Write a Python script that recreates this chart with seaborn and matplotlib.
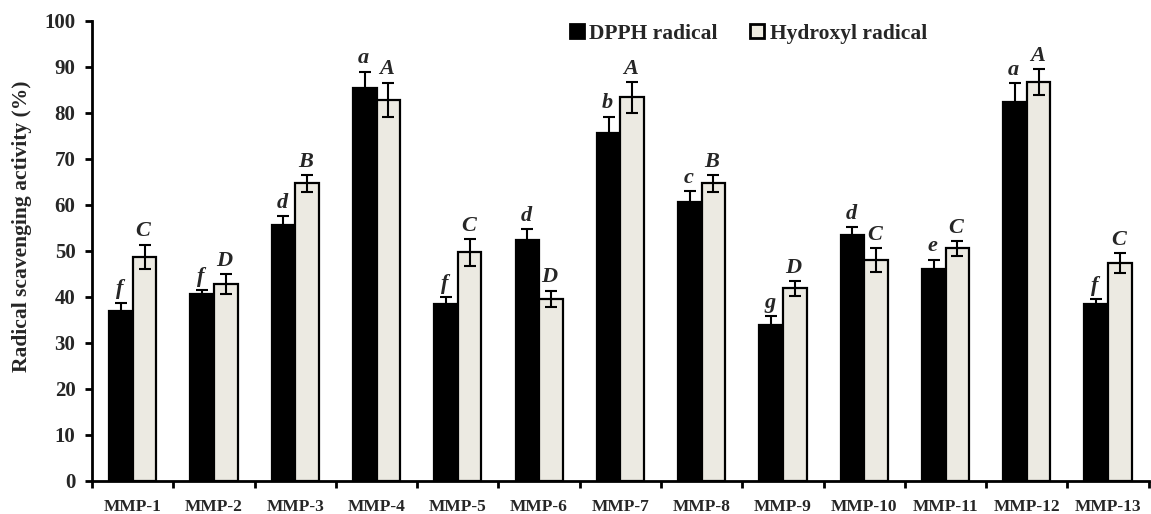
import matplotlib
matplotlib.use("Agg")
import matplotlib.pyplot as plt
import seaborn as sns
import pandas as pd
import numpy as np
from matplotlib.ticker import FixedLocator
from matplotlib.lines import Line2D
from matplotlib.container import BarContainer

categories = ["MMP-1", "MMP-2", "MMP-3", "MMP-4", "MMP-5", "MMP-6", "MMP-7",
              "MMP-8", "MMP-9", "MMP-10", "MMP-11", "MMP-12", "MMP-13"]
series = ["DPPH radical", "Hydroxyl radical"]
dpph = [36.9, 40.6, 55.5, 85.3, 38.4, 52.4, 75.5, 60.6, 33.8, 53.5, 46.0, 82.4, 38.4]
dpph_err = [1.8, 0.8, 2.0, 3.6, 1.5, 2.3, 3.6, 2.3, 2.0, 1.6, 2.0, 4.0, 1.1]
hydroxyl = [48.7, 42.7, 64.6, 82.8, 49.6, 39.5, 83.3, 64.6, 41.8, 47.9, 50.5, 86.7, 47.3]
hydroxyl_err = [2.6, 2.2, 1.8, 3.7, 2.9, 1.8, 3.3, 1.8, 1.6, 2.6, 1.6, 2.8, 2.2]
dpph_letters = ["f", "f", "d", "a", "f", "d", "b", "c", "g", "d", "e", "a", "f"]
hydroxyl_letters = ["C", "D", "B", "A", "C", "D", "A", "B", "D", "C", "C", "A", "C"]
yticks = [0, 10, 20, 30, 40, 50, 60, 70, 80, 90, 100]

colors = ["#000000", "#EEEBE0"]

df = pd.DataFrame({
    "sample": categories * 2,
    "series": [series[0]] * len(categories) + [series[1]] * len(categories),
    "value": dpph + hydroxyl,
})

sns.set_theme(style="ticks")
plt.rcParams["font.family"] = ["Liberation Serif", "DejaVu Serif"]
plt.rcParams["font.weight"] = "bold"

fig = plt.figure(figsize=(11.51, 5.14), dpi=100)
ax = fig.add_axes([0.080, 0.0648, 0.918, 0.8952])

sns.barplot(data=df, x="sample", y="value", hue="series", order=categories,
            hue_order=series, palette=colors, width=0.58, gap=0,
            errorbar=None, edgecolor="black", linewidth=1.6, ax=ax,
            legend=False)

errs = [dpph_err, hydroxyl_err]
vals = [dpph, hydroxyl]
letters = [dpph_letters, hydroxyl_letters]
bar_conts = [c for c in ax.containers if isinstance(c, BarContainer)]
for s_i, cont in enumerate(bar_conts):
    xs = [p.get_x() + p.get_width() / 2 for p in cont.patches]
    ax.errorbar(xs, vals[s_i], yerr=errs[s_i], fmt="none", ecolor="black",
                elinewidth=1.5, capsize=4, capthick=1.5, zorder=5)
    for x, v, e, t in zip(xs, vals[s_i], errs[s_i], letters[s_i]):
        ax.annotate(t, (x, v + e), xytext=(-1, 6), textcoords="offset points",
                    ha="center", va="baseline", fontsize=16,
                    fontweight="bold", fontstyle="italic")

ax.set_ylim(0, 100)
ax.set_xlim(-0.5, len(categories) - 0.5)
ax.set_yticks(yticks)
ax.set_yticklabels([str(t) for t in yticks], fontsize=15, fontweight="bold")
ax.set_xticks(range(len(categories)))
ax.set_xticklabels(categories, fontsize=12.5, fontweight="bold")
ax.tick_params(axis="x", which="major", length=0, pad=13)
ax.xaxis.set_minor_locator(FixedLocator(np.arange(-0.5, len(categories), 1.0)))
ax.tick_params(axis="x", which="minor", length=5, width=2, direction="out", color="black")
ax.tick_params(axis="y", length=5, width=2, direction="out", color="black", pad=7)
ax.set_xlabel("")
ax.set_ylabel("Radical scavenging activity (%)", fontsize=15.5, fontweight="bold")
ax.yaxis.set_label_coords(-0.057, 0.554)
for sp in ["top", "right"]:
    ax.spines[sp].set_visible(False)
for sp in ["left", "bottom"]:
    ax.spines[sp].set_linewidth(2)
    ax.spines[sp].set_color("black")

handles = [Line2D([0], [0], marker="s", linestyle="none", markersize=10,
                  markerfacecolor=c, markeredgecolor="black", markeredgewidth=2)
           for c in colors]
ax.legend(handles, series, loc="upper left", bbox_to_anchor=(0.43, 1.035), ncol=2,
          frameon=False, prop={"size": 15.5, "weight": "bold"}, handletextpad=0.1,
          columnspacing=1.3, handlelength=1.0)

fig.savefig("out.png", dpi=100)
